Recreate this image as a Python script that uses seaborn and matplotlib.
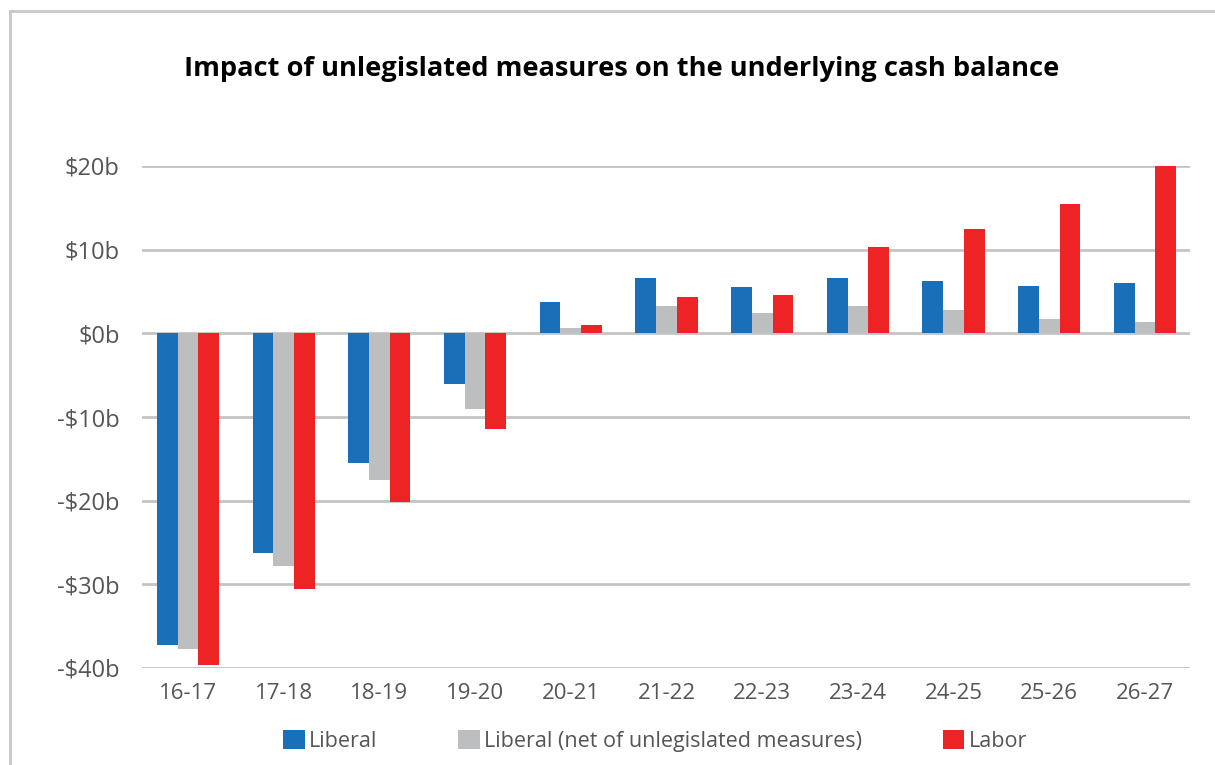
import matplotlib
matplotlib.use("Agg")
import matplotlib.pyplot as plt
import seaborn as sns
import pandas as pd
from matplotlib.lines import Line2D

years = ["16-17", "17-18", "18-19", "19-20", "20-21", "21-22", "22-23",
         "23-24", "24-25", "25-26", "26-27"]
liberal = [-37.2, -26.2, -15.5, -6.1, 3.8, 6.6, 5.5, 6.6, 6.2, 5.7, 6.0]
liberal_net = [-37.7, -27.8, -17.5, -9.0, 0.6, 3.3, 2.4, 3.3, 2.8, 1.7, 1.4]
labor = [-39.6, -30.5, -20.2, -11.4, 1.0, 4.4, 4.6, 10.3, 12.5, 15.5, 20.0]
series_names = ["Liberal", "Liberal (net of unlegislated measures)", "Labor"]
colors = ["#1a70b8", "#bdbec0", "#ee2326"]
yticks = [20, 10, 0, -10, -20, -30, -40]
ytick_labels = ["$20b", "$10b", "$0b", "-$10b", "-$20b", "-$30b", "-$40b"]

df = pd.DataFrame({
    "year": years * 3,
    "series": [series_names[0]] * len(years) + [series_names[1]] * len(years)
              + [series_names[2]] * len(years),
    "value": liberal + liberal_net + labor,
})

sns.set_theme(style="white")
plt.rcParams["font.family"] = ["Open Sans", "DejaVu Sans"]

fig = plt.figure(figsize=(12.15, 7.65), dpi=100)
ax = fig.add_axes([142 / 1215, 1 - 668 / 765, (1190 - 142) / 1215, (668 - 166) / 765])

sns.barplot(data=df, x="year", y="value", hue="series", order=years,
            hue_order=series_names, palette=colors, width=0.65, gap=0,
            saturation=1, errorbar=None, ax=ax, zorder=3, linewidth=0)

ax.set_ylim(-40, 20)
ax.set_xlim(-0.48, len(years) - 1 + 0.47)
ax.set_yticks(yticks)
ax.set_yticklabels(ytick_labels)
for y in yticks:
    ax.axhline(y, color="#c4c4c4", linewidth=2, zorder=1)
for s in ax.spines.values():
    s.set_visible(False)
ax.tick_params(axis="both", length=0, colors="#555555")
ax.tick_params(axis="y", labelsize=17, pad=16)
ax.tick_params(axis="x", labelsize=16, pad=11)
ax.set_xlabel("")
ax.set_ylabel("")
ax.grid(False)

handles, labels = ax.get_legend_handles_labels()
if ax.legend_:
    ax.legend_.remove()
leg = fig.legend(handles, labels, loc="center", bbox_to_anchor=(655 / 1215, 1 - 741 / 765),
                 ncol=3, frameon=False, fontsize=15.5, handlelength=1.0, handleheight=1.0,
                 handletextpad=0.2, columnspacing=3.75, labelcolor="#555555")

fig.text(622 / 1215, 1 - 69 / 765,
         "Impact of unlegislated measures on the underlying cash balance",
         ha="center", va="center", fontsize=19.6, fontweight="bold", color="black")

# outer frame
fig.add_artist(Line2D([10 / 1215, 10 / 1215], [0, 1 - 11 / 765], transform=fig.transFigure,
                      color="#c8c8c8", linewidth=2))
fig.add_artist(Line2D([10 / 1215, 1], [1 - 11 / 765, 1 - 11 / 765], transform=fig.transFigure,
                      color="#c8c8c8", linewidth=2))

fig.savefig("out.png", dpi=100)
